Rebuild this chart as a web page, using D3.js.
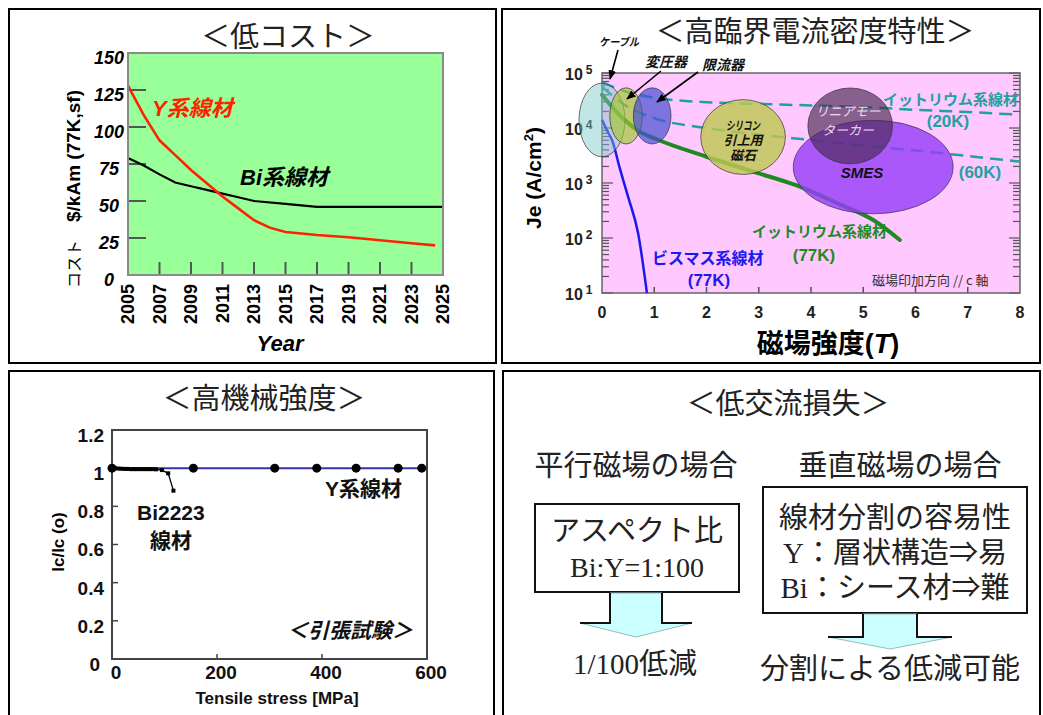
<!DOCTYPE html>
<html><head><meta charset="utf-8">
<script src="https://cdn.jsdelivr.net/npm/d3@7"></script>
<style>body{margin:0;background:#fff}svg{display:block}</style>
</head><body>
<script>
// ================= DATA =================
// Panel 1: cost
const costYearsY = [2005,2006,2007,2008,2009,2010,2011,2012,2013,2014,2015,2017,2019,2021,2023,2024.5];
const costValuesY = [128,108,91,81,71,62,53,45,37,32,29,27,25.5,23.5,21.5,20];
const costYearsBi = [2005,2006,2007,2008,2009,2010,2011,2012,2013,2015,2017,2019,2021,2023,2025];
const costValuesBi = [79,74,68,62.5,60,57.5,55,52.5,50,48,46,46,46,46,46];
const costYTicks = [0,25,50,75,100,125,150];
const costXTicks = [2005,2007,2009,2011,2013,2015,2017,2019,2021,2023,2025];

// Panel 2: Je vs field
const fieldBi77 = [0,0.1,0.2,0.34,0.5,0.69,0.86];
const jeBi77 = [14100,8900,5750,1860,560,123,10];
const fieldY77 = [0,0.4,0.72,1,2,3,3.7,4.5,5.2,5.7];
const jeY77 = [40000,15000,8600,6500,3000,1500,920,430,210,92];
const fieldY20 = [0,0.4,1,2,3,4,5,6,7,8];
const jeY20 = [67600,47900,35500,29500,27500,25700,24000,21400,19500,17400];
const fieldY60 = [0,0.5,1,2,3,4,5,6,7,8];
const jeY60 = [56200,24000,15100,10000,7590,6030,4790,3890,3090,2450];
const appNames = ['ケーブル','変圧器','限流器','シリコン引上用磁石','SMES','リニアモーター'];
const appField = [0,0.46,0.96,2.70,5.19,4.75];
const appJe = [14000,16600,16600,6850,1950,10900];
const appFieldHalfWidth = [0.44,0.31,0.36,0.81,1.53,0.81];
const appDecadeHalfHeight = [0.67,0.51,0.51,0.68,0.85,0.69];
const fieldTicks = [0,1,2,3,4,5,6,7,8];
const jeExponents = [1,2,3,4,5];

// Panel 3: tensile
const stressY = [0,155,310,390,465,545,590];
const icY = [1,1,1,1,1,1,1];
const stressBi = [0,6,12,18,24,30,36,42,48,54,60,66,72,78,84,95,107,117];
const icBi = [1,1,0.998,0.997,0.996,0.996,0.995,0.995,0.995,0.995,0.995,0.995,0.995,0.995,0.994,0.99,0.973,0.882];
const stressTicks = [0,200,400,600];
const icTicks = [0,0.2,0.4,0.6,0.8,1,1.2];
const icTickLabels = ['0','0.2','0.4','0.6','0.8','1','1.2'];

// ================= SETUP =================
const JP = "'Noto Sans CJK JP', sans-serif";
const SANS = "'Liberation Sans', Arial, 'Noto Sans CJK JP', sans-serif";
const SERIF = "'Liberation Serif', 'Times New Roman', 'Noto Sans CJK JP', serif";

const svg = d3.select('body').append('svg').attr('width',1043).attr('height',715);

function txt(g, x, y, s, o) {
  const t = g.append('text').attr('x', x).attr('y', y).text(s);
  Object.entries(o || {}).forEach(([k, v]) => t.attr(k, v));
  return t;
}

// ================= PANEL 1 =================
{
  const g = svg.append('g');
  const xs = d3.scaleLinear().domain([2005,2025]).range([128,443]);
  const ys = d3.scaleLinear().domain([0,150]).range([275,53]);
  g.append('rect').attr('x',xs(2005)).attr('y',ys(150)).attr('width',xs(2025)-xs(2005)).attr('height',ys(0)-ys(150)).attr('fill','#99ff99');
  costYTicks.filter(v => v > 0 && v < 150).forEach(v => {
    g.append('line').attr('x1',xs(2005)).attr('x2',xs(2005)+18).attr('y1',ys(v)).attr('y2',ys(v)).attr('stroke','#555').attr('stroke-width',2);
  });
  costXTicks.filter(v => v > 2005 && v < 2025).forEach(v => {
    g.append('line').attr('x1',xs(v)).attr('x2',xs(v)).attr('y1',ys(0)).attr('y2',ys(0)-13).attr('stroke','#555').attr('stroke-width',2);
  });
  const line = d3.line().x(d => xs(d[0])).y(d => ys(d[1]));
  g.append('path').attr('d', line(costYearsBi.map((x,i) => [x, costValuesBi[i]]))).attr('fill','none').attr('stroke','#000').attr('stroke-width',2.2);
  g.append('path').attr('d', line(costYearsY.map((x,i) => [x, costValuesY[i]]))).attr('fill','none').attr('stroke','#ff2200').attr('stroke-width',2.6);
  g.append('rect').attr('x',xs(2005)).attr('y',ys(150)).attr('width',xs(2025)-xs(2005)).attr('height',ys(0)-ys(150)).attr('fill','none').attr('stroke','#8a8a8a').attr('stroke-width',2);
  costYTicks.forEach(v => txt(g, 109, ys(v)+5, String(v), {'dy':'0.36em','text-anchor':'middle','font-family':SANS,'font-size':18,'font-weight':'bold','font-style':'italic'}));
  costXTicks.forEach(v => {
    g.append('text').attr('transform',`translate(${xs(v)},284) rotate(-90)`).attr('dy','0.36em').attr('text-anchor','end')
      .attr('font-family',SANS).attr('font-size',18).attr('font-weight','bold').text(String(v));
  });
  txt(g, 280, 351, 'Year', {'text-anchor':'middle','font-family':SANS,'font-size':22,'font-weight':'bold','font-style':'italic'});
  const yl = g.append('text').attr('transform','translate(74,189) rotate(-90)').attr('text-anchor','middle').attr('dy','0.36em');
  yl.append('tspan').attr('font-family',JP).attr('font-size',16).text('コスト');
  yl.append('tspan').attr('dx',18).attr('font-family',SANS).attr('font-size',19).attr('font-weight','bold').text('$/kAm (77K,sf)');
  txt(g, 152, 116, 'Y系線材', {'font-family':SANS,'font-size':22,'font-weight':'bold','font-style':'italic','fill':'#ff2200'});
  txt(g, 240, 185, 'Bi系線材', {'font-family':SANS,'font-size':22,'font-weight':'bold','font-style':'italic','fill':'#000'});
  txt(g, 288, 47, '＜低コスト＞', {'text-anchor':'middle','font-family':JP,'font-size':29,'fill':'#222'});
}

// ================= PANEL 2 =================
{
  const g = svg.append('g');
  const xs = d3.scaleLinear().domain([0,8]).range([602,1020]);
  const ys = d3.scaleLog().domain([10,1e5]).range([293,73]);
  g.append('rect').attr('x',xs(0)).attr('y',ys(1e5)).attr('width',xs(8)-xs(0)).attr('height',ys(10)-ys(1e5)).attr('fill','#ffc8ff');
  jeExponents.forEach(e => {
    for (let m = 1; m <= 9; m++) {
      if (e === 5 && m > 1) break;
      const v = m * Math.pow(10, e), L = m === 1 ? 11 : 7;
      g.append('line').attr('x1',xs(0)).attr('x2',xs(0)+L).attr('y1',ys(v)).attr('y2',ys(v)).attr('stroke','#555').attr('stroke-width',1.2);
      g.append('line').attr('x1',xs(8)).attr('x2',xs(8)-L).attr('y1',ys(v)).attr('y2',ys(v)).attr('stroke','#555').attr('stroke-width',1.2);
    }
  });
  fieldTicks.filter(v => v > 0 && v < 8).forEach(v => {
    g.append('line').attr('x1',xs(v)).attr('x2',xs(v)).attr('y1',ys(10)).attr('y2',ys(10)-6).attr('stroke','#555').attr('stroke-width',1.5);
  });
  g.append('rect').attr('x',xs(0)).attr('y',ys(1e5)).attr('width',xs(8)-xs(0)).attr('height',ys(10)-ys(1e5)).attr('fill','none').attr('stroke','#666').attr('stroke-width',1.5);
  jeExponents.forEach(e => {
    const t = g.append('text').attr('x',565).attr('y',ys(Math.pow(10,e))+7).attr('font-family',SANS).attr('font-weight','bold').attr('fill','#222');
    t.append('tspan').attr('font-size',16).text('10');
    t.append('tspan').attr('font-size',12).attr('dx',3).attr('dy',-6).text(String(e));
  });
  fieldTicks.forEach(v => txt(g, xs(v), 318, String(v), {'text-anchor':'middle','font-family':SANS,'font-size':16,'font-weight':'bold','fill':'#222'}));
  const xt = g.append('text').attr('x',828).attr('y',353).attr('text-anchor','middle').attr('font-family',SANS).attr('font-size',27).attr('font-weight','bold');
  xt.append('tspan').text('磁場強度(');
  xt.append('tspan').attr('font-style','italic').text('T');
  xt.append('tspan').text(')');
  const yt = g.append('text').attr('transform','translate(533,178) rotate(-90)').attr('text-anchor','middle').attr('dy','0.36em').attr('font-family',SANS).attr('font-size',21).attr('font-weight','bold');
  yt.append('tspan').text('Je (A/cm');
  yt.append('tspan').attr('font-size',13).attr('dy',-8).text('2');
  yt.append('tspan').attr('dy',8).text(')');
  const line = d3.line().x(d => xs(d[0])).y(d => ys(d[1])).curve(d3.curveMonotoneX);
  const pts = (a, b) => a.map((x,i) => [x, b[i]]);
  g.append('path').attr('d', line(pts(fieldY20, jeY20))).attr('fill','none').attr('stroke','#20a0a0').attr('stroke-width',2.5).attr('stroke-dasharray','13,7');
  g.append('path').attr('d', line(pts(fieldY60, jeY60))).attr('fill','none').attr('stroke','#20a0a0').attr('stroke-width',2.5).attr('stroke-dasharray','13,7');
  g.append('path').attr('d', line(pts(fieldY77, jeY77))).attr('fill','none').attr('stroke','#1f8a1f').attr('stroke-width',4).attr('stroke-linecap','round');
  g.append('path').attr('d', line(pts(fieldBi77, jeBi77))).attr('fill','none').attr('stroke','#1a1aee').attr('stroke-width',2.5);
  const ellStyle = {
    'ケーブル': 'rgba(120,200,200,0.45)',
    '変圧器': 'rgba(160,200,40,0.65)',
    '限流器': 'rgba(70,80,210,0.7)',
    'シリコン引上用磁石': 'rgba(190,200,80,0.82)',
    'SMES': 'rgba(150,60,250,0.8)',
    'リニアモーター': 'rgba(70,40,80,0.65)'
  };
  appNames.forEach((name, i) => {
    const cx = xs(appField[i]), cy = ys(appJe[i]);
    const rx = xs(appField[i] + appFieldHalfWidth[i]) - cx;
    const ry = cy - ys(appJe[i] * Math.pow(10, appDecadeHalfHeight[i]));
    g.append('ellipse').attr('cx',cx).attr('cy',cy).attr('rx',rx).attr('ry',ry)
      .attr('fill', ellStyle[name]).attr('stroke','rgba(50,50,60,0.7)').attr('stroke-width',1);
  });
  const defs = svg.append('defs');
  defs.append('marker').attr('id','ah').attr('viewBox','0 0 10 10').attr('refX',9).attr('refY',5)
    .attr('markerWidth',6).attr('markerHeight',6).attr('orient','auto')
    .append('path').attr('d','M0,1 L10,5 L0,9 Z').attr('fill','#000');
  [[618,50,610,79],[661,71,627,99],[698,72,657,102]].forEach(a => {
    g.append('line').attr('x1',a[0]).attr('y1',a[1]).attr('x2',a[2]).attr('y2',a[3]).attr('stroke','#000').attr('stroke-width',1.6).attr('marker-end','url(#ah)');
  });
  const bi = {'font-family':SANS,'font-weight':'bold','font-style':'italic','fill':'#111'};
  txt(g, 599, 46, 'ケーブル', Object.assign({'font-size':11,'textLength':40,'lengthAdjust':'spacingAndGlyphs'}, bi));
  txt(g, 645, 67, '変圧器', Object.assign({'font-size':14}, bi));
  txt(g, 702, 70, '限流器', Object.assign({'font-size':14}, bi));
  txt(g, 743, 130, 'シリコン', Object.assign({'font-size':12,'text-anchor':'middle','textLength':34,'lengthAdjust':'spacingAndGlyphs'}, bi));
  txt(g, 743, 145, '引上用', Object.assign({'font-size':13,'text-anchor':'middle'}, bi));
  txt(g, 743, 160, '磁石', Object.assign({'font-size':13,'text-anchor':'middle'}, bi));
  const lm = {'font-family':SANS,'font-size':13,'text-anchor':'middle','fill':'#eadcea','font-style':'italic'};
  txt(g, 848, 116, 'リニアモー', lm);
  txt(g, 848, 135, 'ターカー', lm);
  txt(g, 862, 178, 'SMES', {'font-family':SANS,'font-size':15,'font-weight':'bold','font-style':'italic','text-anchor':'middle','fill':'#111'});
  const teal = {'font-family':SANS,'font-size':15,'font-weight':'bold','fill':'#23a0a0'};
  txt(g, 883, 105, 'イットリウム系線材', teal);
  txt(g, 948, 127, '(20K)', Object.assign({}, teal, {'text-anchor':'middle','font-size':17}));
  txt(g, 980, 178, '(60K)', Object.assign({}, teal, {'text-anchor':'middle','font-size':17}));
  const green = {'font-family':SANS,'font-size':15,'font-weight':'bold','fill':'#1f8a1f'};
  txt(g, 752, 237, 'イットリウム系線材', green);
  txt(g, 814, 261, '(77K)', Object.assign({}, green, {'text-anchor':'middle','font-size':17}));
  const blue = {'font-family':SANS,'font-size':16,'font-weight':'bold','fill':'#1a1aee'};
  txt(g, 652, 264, 'ビスマス系線材', blue);
  txt(g, 709, 286, '(77K)', Object.assign({}, blue, {'text-anchor':'middle','font-size':17}));
  txt(g, 872, 285, '磁場印加方向 // c 軸', {'font-family':JP,'font-size':13,'fill':'#333'});
  txt(g, 815, 42, '＜高臨界電流密度特性＞', {'text-anchor':'middle','font-family':JP,'font-size':29,'fill':'#222'});
}

// ================= PANEL 3 =================
{
  const g = svg.append('g');
  const xs = d3.scaleLinear().domain([0,600]).range([112,427]);
  const ys = d3.scaleLinear().domain([0,1.2]).range([659,430]);
  icTicks.filter(v => v > 0 && v < 1.2).forEach(v => {
    g.append('line').attr('x1',xs(0)).attr('x2',xs(0)+6).attr('y1',ys(v)).attr('y2',ys(v)).attr('stroke','#444').attr('stroke-width',1.5);
  });
  stressTicks.filter(v => v > 0 && v < 600).forEach(v => {
    g.append('line').attr('x1',xs(v)).attr('x2',xs(v)).attr('y1',ys(0)).attr('y2',ys(0)-5).attr('stroke','#444').attr('stroke-width',1.5);
  });
  g.append('rect').attr('x',xs(0)).attr('y',ys(1.2)).attr('width',xs(600)-xs(0)).attr('height',ys(0)-ys(1.2)).attr('fill','none').attr('stroke','#444').attr('stroke-width',2);
  const line = d3.line().x(d => xs(d[0])).y(d => ys(d[1]));
  g.append('path').attr('d', line(stressY.map((x,i) => [x, icY[i]]))).attr('fill','none').attr('stroke','#3434a8').attr('stroke-width',2);
  stressY.forEach((x,i) => g.append('circle').attr('cx',xs(x)).attr('cy',ys(icY[i])).attr('r',4.5).attr('fill','#000'));
  g.append('path').attr('d', line(stressBi.map((x,i) => [x, icBi[i]]))).attr('fill','none').attr('stroke','#000').attr('stroke-width',1.3);
  stressBi.forEach((x,i) => g.append('rect').attr('x',xs(x)-2).attr('y',ys(icBi[i])-2).attr('width',4).attr('height',4).attr('fill','#000'));
  const num = {'font-family':SANS,'font-size':19,'font-weight':'bold','fill':'#111'};
  icTicks.forEach((v,i) => {
    const zero = v === 0;
    txt(g, zero ? 100 : 104, ys(v) + 5, icTickLabels[i], Object.assign({'text-anchor':'end','dy':'0.36em'}, num));
  });
  stressTicks.forEach(v => txt(g, xs(v) + 4, 679, String(v), Object.assign({'text-anchor':'middle'}, num)));
  g.append('text').attr('transform','translate(58,542) rotate(-90)').attr('text-anchor','middle').attr('dy','0.36em')
    .attr('font-family',SANS).attr('font-size',17).attr('font-weight','bold').text('Ic/Ic (o)');
  txt(g, 277, 704, 'Tensile stress [MPa]', {'text-anchor':'middle','font-family':SANS,'font-size':17,'font-weight':'bold','fill':'#111'});
  const lb = {'font-family':SANS,'font-size':21,'font-weight':'bold','fill':'#111'};
  txt(g, 137, 520, 'Bi2223', lb);
  txt(g, 150, 548, '線材', lb);
  txt(g, 325, 496, 'Y系線材', lb);
  txt(g, 287, 638, '＜引張試験＞', Object.assign({'font-style':'italic'}, lb));
  txt(g, 264, 409, '＜高機械強度＞', {'text-anchor':'middle','font-family':JP,'font-size':29,'fill':'#222'});
}

// ================= PANEL 4 =================
{
  const g = svg.append('g');
  const big = {'font-family':SERIF,'font-size':29,'fill':'#222','text-anchor':'middle'};
  txt(g, 788, 414, '＜低交流損失＞', big);
  txt(g, 636, 476, '平行磁場の場合', big);
  txt(g, 900, 476, '垂直磁場の場合', big);
  g.append('rect').attr('x',535).attr('y',504).attr('width',204).attr('height',88).attr('fill','#fff').attr('stroke','#111').attr('stroke-width',2);
  txt(g, 637, 541, 'アスペクト比', big);
  txt(g, 637, 577, 'Bi:Y=1:100', Object.assign({}, big, {'font-size':28}));
  g.append('rect').attr('x',763).attr('y',487).attr('width',264).attr('height',126).attr('fill','#fff').attr('stroke','#111').attr('stroke-width',2);
  txt(g, 895, 528, '線材分割の容易性', big);
  txt(g, 895, 563, 'Y：層状構造⇒易', big);
  txt(g, 895, 598, 'Bi：シース材⇒難', big);
  function arrow(cx, top, sh, sb, hh, tip) {
    g.append('path').attr('d',`M${cx-sh},${top} L${cx-sh},${sb} L${cx-hh},${sb} L${cx},${tip} L${cx+hh},${sb} L${cx+sh},${sb} L${cx+sh},${top} Z`)
      .attr('fill','#ccffff').attr('stroke','#9bb').attr('stroke-width',1);
    g.append('path').attr('d',`M${cx-sh},${top} L${cx-sh},${sb} L${cx-hh},${sb} M${cx+sh},${top} L${cx+sh},${sb} L${cx+hh},${sb}`)
      .attr('fill','none').attr('stroke','#111').attr('stroke-width',2);
  }
  arrow(636, 593, 26, 623, 56, 637);
  arrow(890, 614, 27, 637, 62, 649);
  txt(g, 635, 674, '1/100低減', big);
  txt(g, 890, 679, '分割による低減可能', big);
}

// ================= PANEL FRAMES =================
[[9,9,487,354],[502,9,538,354],[9,371,485,360],[503,371,537,360]].forEach(b => {
  svg.append('rect').attr('x',b[0]).attr('y',b[1]).attr('width',b[2]).attr('height',b[3]).attr('fill','none').attr('stroke','#000').attr('stroke-width',2);
});
</script>
</body></html>
